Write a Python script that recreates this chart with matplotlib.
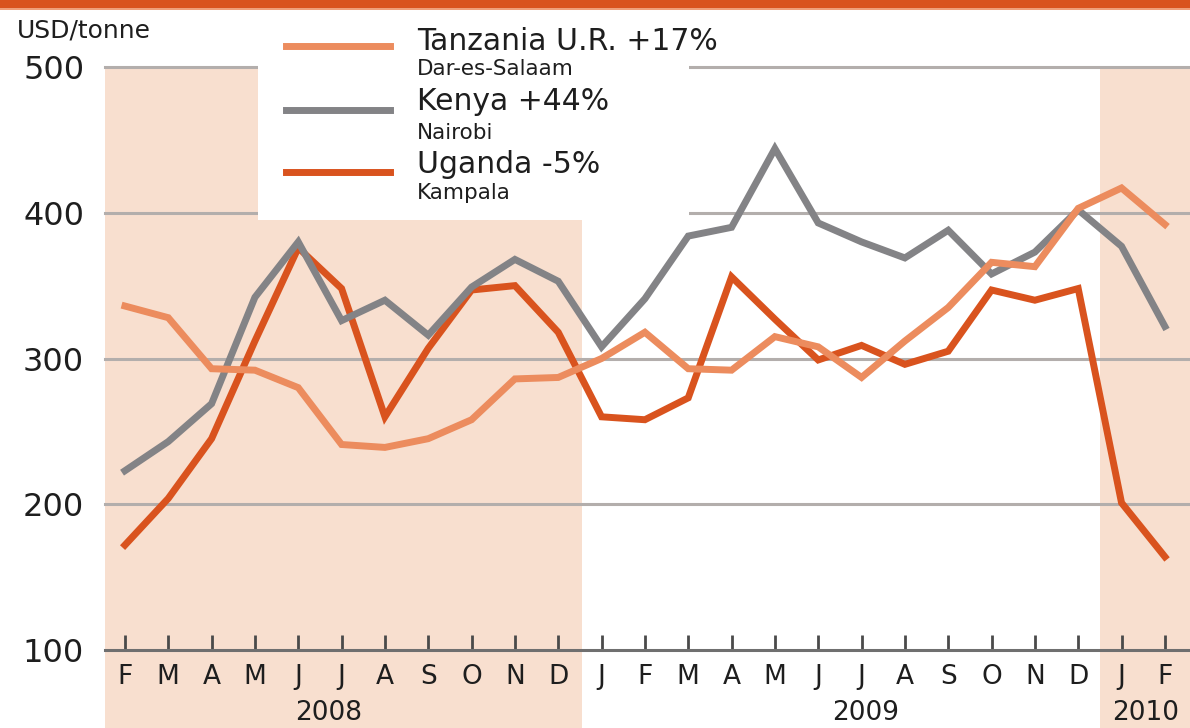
import matplotlib
matplotlib.use("Agg")
import matplotlib.pyplot as plt
from matplotlib.patches import Rectangle
from matplotlib.lines import Line2D

# Données (USD/tonne), de février 2008 à février 2010
months = ["F", "M", "A", "M", "J", "J", "A", "S", "O", "N", "D",
          "J", "F", "M", "A", "M", "J", "J", "A", "S", "O", "N", "D",
          "J", "F"]
tanzania = [336, 328, 293, 292, 280, 241, 239, 245, 258, 286, 287,
            300, 318, 293, 292, 315, 308, 287, 312, 335, 366, 363, 403,
            417, 392]
kenya = [223, 243, 269, 342, 380, 326, 340, 316, 349, 368, 353,
         308, 341, 384, 390, 444, 393, 380, 369, 388, 358, 373, 402,
         377, 322]
uganda = [172, 204, 245, 312, 376, 348, 260, 307, 347, 350, 318,
          260, 258, 273, 356, 327, 299, 309, 296, 305, 347, 340, 348,
          201, 164]
years = ["2008", "2009", "2010"]
year_pos = [4.7, 17.1, 23.55]

W, H = 1190, 728
c_tz = "#ec8c5e"
c_ke = "#838386"
c_ug = "#d9531e"
c_shade = "#f8dfcf"
c_grid = "#b3aeac"
c_txt = "#1e1e1e"

plt.rcParams["font.family"] = ["DejaVu Sans"]

fig = plt.figure(figsize=(W / 100, H / 100), dpi=100, facecolor="white")
ax = fig.add_axes([105 / W, 0, 1 - 105 / W, 1 - 67 / H])

x = list(range(len(months)))

# zones ombrées (2008 et 2010)
ax.axvspan(-0.46, 10.55, color=c_shade, lw=0, zorder=0)
ax.axvspan(22.5, 24.6, color=c_shade, lw=0, zorder=0)

# grille
for v in [200, 300, 400, 500]:
    ax.axhline(v, color=c_grid, lw=2.2, zorder=1, clip_on=False)

# cadre blanc de la légende
ax.add_patch(Rectangle((3.07, 395), 9.95, 120, facecolor="white",
                       edgecolor="none", zorder=2, clip_on=False))

lw = 5
ax.plot(x, uganda, color=c_ug, lw=lw, zorder=3, solid_joinstyle="miter")
ax.plot(x, kenya, color=c_ke, lw=lw, zorder=4, solid_joinstyle="miter")
ax.plot(x, tanzania, color=c_tz, lw=lw, zorder=5, solid_joinstyle="miter")

ax.set_xlim(-0.46, 24.58)
ax.set_ylim(46.5, 500)

for s in ["top", "right", "left"]:
    ax.spines[s].set_visible(False)
ax.spines["bottom"].set_position(("data", 100))
ax.spines["bottom"].set_color("#6f6f6f")
ax.spines["bottom"].set_linewidth(2.2)
ax.spines["bottom"].set_zorder(6)

ax.set_xticks(x, months)
ax.tick_params(axis="x", direction="in", length=11, width=2, color="#4a4a4a",
               pad=10, labelsize=19, labelcolor=c_txt)
ax.set_yticks([100, 200, 300, 400, 500])
ax.tick_params(axis="y", length=0, pad=15, labelsize=23, labelcolor=c_txt)

for yr, p in zip(years, year_pos):
    ax.text(p, 57, yr, ha="center", va="center", fontsize=19, color=c_txt)

# bandeau orange en haut
fig.add_artist(Rectangle((0, 1 - 8 / H), 1, 8 / H, transform=fig.transFigure,
                         color=c_ug, lw=0))
fig.add_artist(Rectangle((0, 1 - 10 / H), 1, 2 / H, transform=fig.transFigure,
                         color="#ef9f7a", lw=0))

fig.text(17 / W, 1 - 38 / H, "USD/tonne", fontsize=18, va="baseline",
         color=c_txt)

# légende manuelle : (couleur, y du trait, y titre, y ville, titre, ville)
leg = [
    (c_tz, 46, 50, 75, "Tanzania U.R. +17%", "Dar-es-Salaam"),
    (c_ke, 110, 110, 139, "Kenya +44%", "Nairobi"),
    (c_ug, 172, 173, 199, "Uganda -5%", "Kampala"),
]
for col, yl, yt, yc, name, city in leg:
    fig.add_artist(Line2D([286 / W, 390 / W], [1 - yl / H, 1 - yl / H],
                          transform=fig.transFigure, color=col, lw=lw))
    fig.text(417 / W, 1 - yt / H, name, fontsize=21.5, va="baseline",
             color=c_txt)
    fig.text(417 / W, 1 - yc / H, city, fontsize=15.5, va="baseline",
             color=c_txt)

fig.savefig("out.png", dpi=100)
